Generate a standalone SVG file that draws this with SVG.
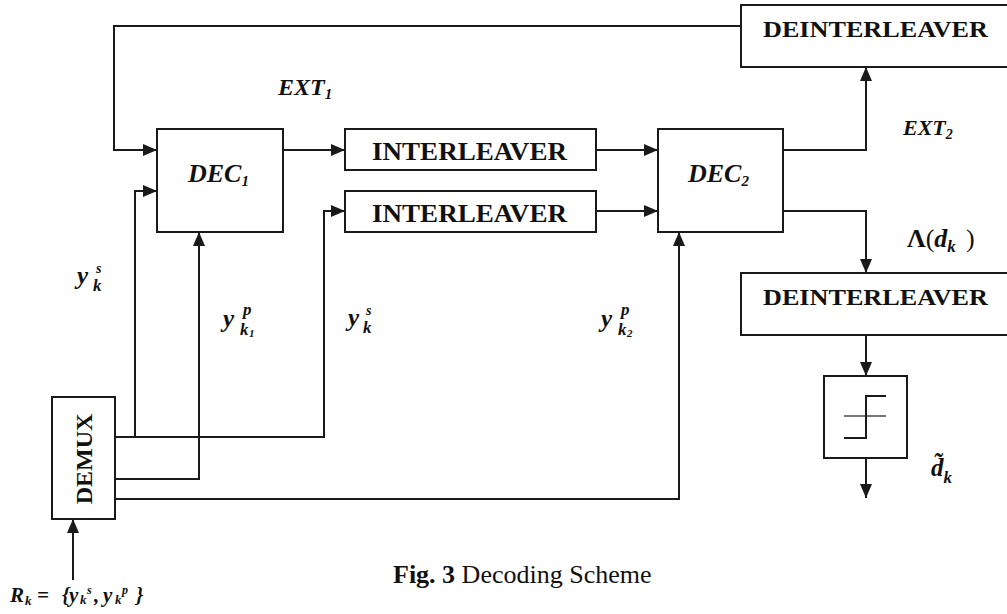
<svg xmlns="http://www.w3.org/2000/svg" width="1007" height="614" viewBox="0 0 1007 614">
<defs>
<marker id="arr" markerUnits="userSpaceOnUse" markerWidth="14" markerHeight="12" refX="14" refY="6" orient="auto">
<path d="M0,0 L14,6 L0,12 z" fill="#1a1a1a"/>
</marker>
<style>
.box{fill:#fff;stroke:#1a1a1a;stroke-width:2}
.ln{fill:none;stroke:#1a1a1a;stroke-width:2}
.ar{fill:none;stroke:#1a1a1a;stroke-width:2;marker-end:url(#arr)}
.t{font-family:"Liberation Serif",serif;fill:#111}
.bb{font-weight:bold}
.bi{font-weight:bold;font-style:italic}
</style>
</defs>
<rect width="1007" height="614" fill="#fff"/>

<g id="connectors">
<path class="ar" d="M741,26 H114 V150 H157"/>
<path class="ar" d="M283,150 H345"/>
<path class="ar" d="M596,150 H658"/>
<path class="ar" d="M596,211 H658"/>
<path class="ar" d="M783,150 H866 V67"/>
<path class="ar" d="M783,211 H866 V273"/>
<path class="ar" d="M866,335 V376"/>
<path class="ar" d="M866,458 V498"/>
<path class="ar" d="M115,437 H324 V211 H345"/>
<path class="ar" d="M135,437 V191 H157"/>
<path class="ar" d="M115,479 H199 V232"/>
<path class="ar" d="M115,499 H679 V232"/>
<path class="ar" d="M73,580 V519"/>
</g>

<g id="dec1">
<rect class="box" x="157" y="129" width="126" height="103"/>
<text class="t bi" x="188" y="182" font-size="26">DEC<tspan font-size="15" dy="4">1</tspan></text>
</g>
<g id="dec2">
<rect class="box" x="658" y="129" width="125" height="103"/>
<text class="t bi" x="688" y="182" font-size="26">DEC<tspan font-size="15" dy="4">2</tspan></text>
</g>
<g id="interleaver1">
<rect class="box" x="345" y="129" width="251" height="41"/>
<text class="t bb" x="372" y="160" font-size="25" textLength="195" lengthAdjust="spacingAndGlyphs">INTERLEAVER</text>
</g>
<g id="interleaver2">
<rect class="box" x="345" y="191" width="251" height="41"/>
<text class="t bb" x="372" y="222" font-size="25" textLength="195" lengthAdjust="spacingAndGlyphs">INTERLEAVER</text>
</g>
<g id="deinterleaver1">
<rect class="box" x="741" y="5" width="270" height="62"/>
<text class="t bb" x="763" y="37" font-size="24" textLength="225" lengthAdjust="spacingAndGlyphs">DEINTERLEAVER</text>
</g>
<g id="deinterleaver2">
<rect class="box" x="741" y="273" width="270" height="62"/>
<text class="t bb" x="763" y="305" font-size="24" textLength="225" lengthAdjust="spacingAndGlyphs">DEINTERLEAVER</text>
</g>
<g id="demux">
<rect class="box" x="52" y="397" width="63" height="122"/>
<text class="t bb" transform="translate(92,459) rotate(-90)" text-anchor="middle" font-size="24">DEMUX</text>
</g>
<g id="threshold">
<rect class="box" x="824" y="376" width="83" height="82"/>
<path d="M844,416 H886" stroke="#777" stroke-width="2" fill="none"/>
<path class="ln" d="M844,438 H866 V396 H886"/>
</g>

<g id="labels">
<text class="t bi" x="278" y="95" font-size="24">EXT<tspan font-size="15" dy="4">1</tspan></text>
<text class="t bi" x="903" y="135" font-size="22">EXT<tspan font-size="14" dy="4">2</tspan></text>
<text class="t" x="907" y="247" font-size="26"><tspan font-weight="bold">Λ</tspan>(<tspan class="bi">d</tspan><tspan class="bi" font-size="17" dy="5">k</tspan><tspan x="966" dy="-5">)</tspan></text>

<text class="t bi" x="77" y="284" font-size="25">y</text>
<text class="t bi" x="96" y="273" font-size="14">s</text>
<text class="t bi" x="93" y="291" font-size="17">k</text>

<text class="t bi" x="223" y="327" font-size="25">y</text>
<text class="t bi" x="243" y="315" font-size="17">p</text>
<text class="t bi" x="240" y="335" font-size="17">k</text>
<text class="t bi" x="249" y="337" font-size="11">1</text>

<text class="t bi" x="348" y="326" font-size="25">y</text>
<text class="t bi" x="366" y="315" font-size="14">s</text>
<text class="t bi" x="363" y="333" font-size="17">k</text>

<text class="t bi" x="601" y="327" font-size="25">y</text>
<text class="t bi" x="621" y="315" font-size="17">p</text>
<text class="t bi" x="618" y="335" font-size="17">k</text>
<text class="t bi" x="627" y="337" font-size="11">2</text>

<text class="t bi" x="931" y="476" font-size="25">d̃<tspan font-size="17" dy="7">k</tspan></text>

<text class="t bi" y="602" font-size="21"><tspan x="10">R</tspan><tspan x="25" font-size="13" dy="3">k</tspan><tspan x="37" dy="-3">=</tspan><tspan x="62">{</tspan><tspan x="69">y</tspan><tspan x="80" font-size="13" dy="2">k</tspan><tspan x="87" font-size="12" dy="-10">s</tspan><tspan x="94" dy="8">,</tspan><tspan x="103">y</tspan><tspan x="115" font-size="13" dy="2">k</tspan><tspan x="122" font-size="12" dy="-10">p</tspan><tspan x="136" dy="8">}</tspan></text>

<text class="t" x="393" y="583" font-size="26"><tspan font-weight="bold">Fig. 3</tspan> Decoding Scheme</text>
</g>
</svg>
